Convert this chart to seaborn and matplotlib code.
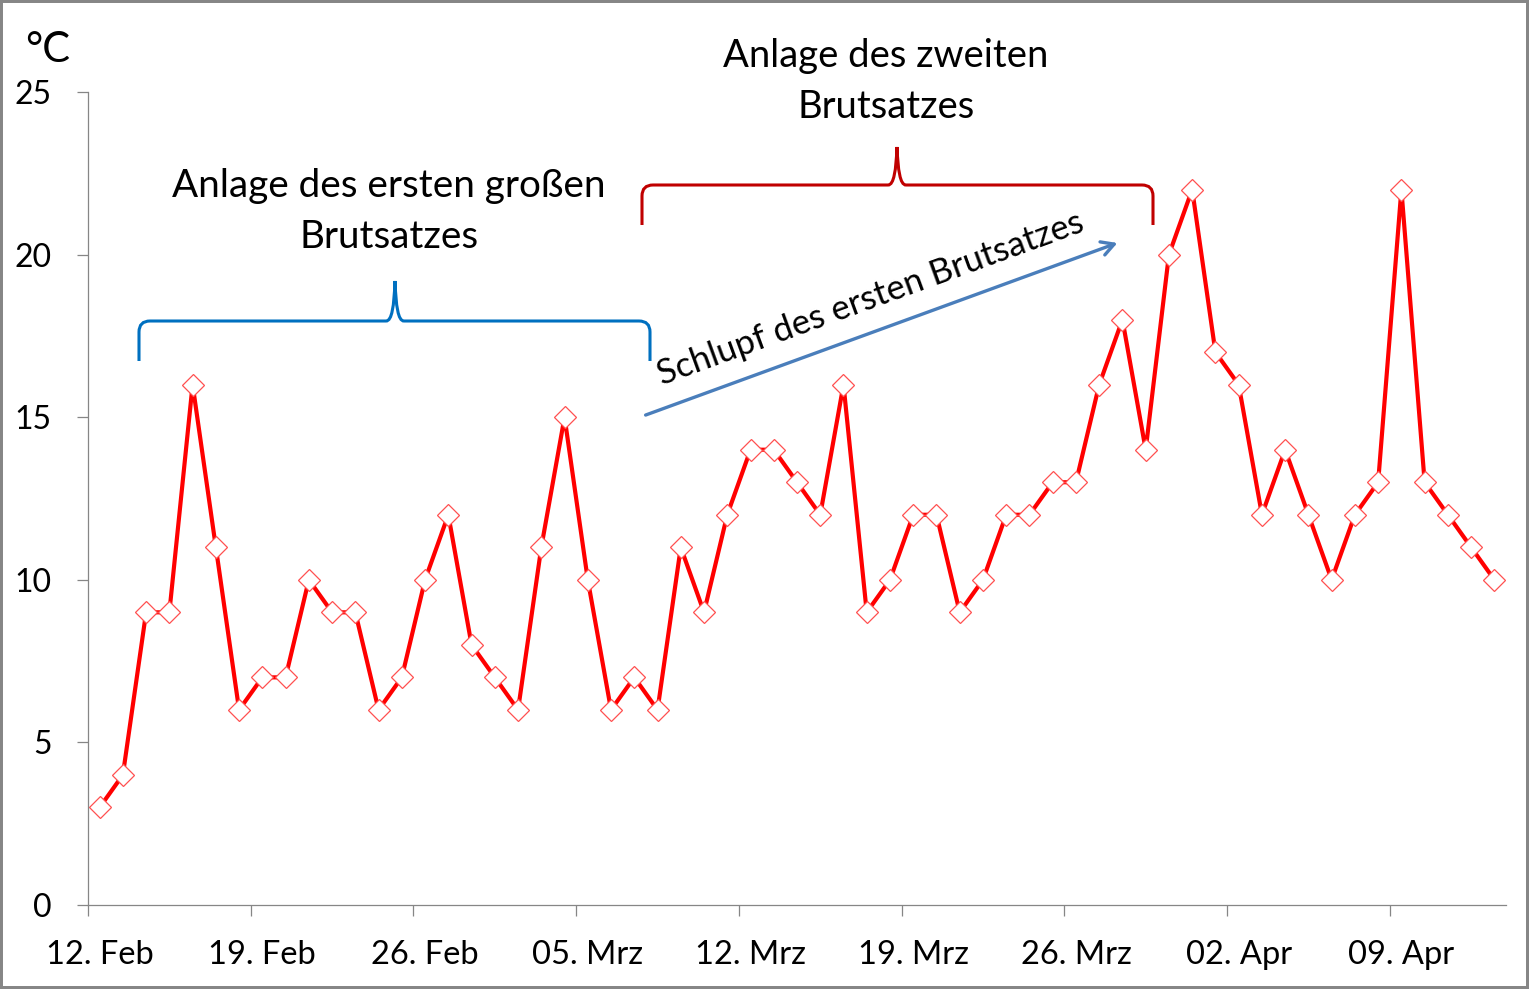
"""Tagestemperaturen Feb-Apr mit Brutsatz-Annotationen."""

import matplotlib.dates as mdates
import matplotlib.pyplot as plt
import numpy as np
import pandas as pd
import seaborn as sns
from matplotlib.patches import FancyArrowPatch, PathPatch, Rectangle
from matplotlib.path import Path

sns.set_style("white")
plt.rcParams["font.family"] = ["Lato", "DejaVu Sans"]
plt.rcParams["text.color"] = "black"
plt.rcParams["xtick.labelcolor"] = "black"
plt.rcParams["ytick.labelcolor"] = "black"

# --- data -------------------------------------------------------------
start_date = "2013-02-12"
temperatures = [
    3, 4, 9, 9, 16, 11, 6, 7, 7, 10, 9, 9, 6, 7, 10, 12, 8, 7, 6, 11,
    15, 10, 6, 7, 6, 11, 9, 12, 14, 14, 13, 12, 16, 9, 10, 12, 12, 9, 10, 12,
    12, 13, 13, 16, 18, 14, 20, 22, 17, 16, 12, 14, 12, 10, 12, 13, 22, 13, 12, 11,
    10,
]
tick_labels = [
    "12. Feb", "19. Feb", "26. Feb", "05. Mrz", "12. Mrz",
    "19. Mrz", "26. Mrz", "02. Apr", "09. Apr",
]
y_ticks = [0, 5, 10, 15, 20, 25]
label_first = ["Anlage des ersten großen", "Brutsatzes"]
label_second = ["Anlage des zweiten", "Brutsatzes"]
label_arrow = "Schlupf des ersten Brutsatzes"

days = pd.date_range(start_date, periods=len(temperatures), freq="D")
df = pd.DataFrame({"datum": days + pd.Timedelta(hours=12), "temp": temperatures})
tick_days = pd.date_range(start_date, periods=len(tick_labels), freq="7D")

W, H = 1529, 989
GRAY = "#868686"


def fxy(x, y):
    """Reference pixel position -> figure fraction."""
    return x / W, 1 - y / H


fig = plt.figure(figsize=(W / 100, H / 100), dpi=100)
ax = fig.add_axes([88 / W, 1 - 905 / H, (1506 - 88) / W, (905 - 92) / H])

sns.lineplot(
    data=df, x="datum", y="temp", ax=ax,
    color="#FF0000", linewidth=3.0,
    marker="D", markersize=11,
    markerfacecolor="white", markeredgecolor="#FF5050", markeredgewidth=0.9,
)

x0 = mdates.date2num(days[0])
ax.set_xlim(x0, x0 + len(temperatures))
ax.set_ylim(0, 25)
ax.set_xlabel("")
ax.set_ylabel("")

ax.set_xticks(mdates.date2num(tick_days))
ax.set_xticklabels([])
ax.set_xticks(mdates.date2num(tick_days) + 0.5, minor=True)
ax.set_xticklabels(tick_labels, minor=True)
ax.tick_params(axis="x", which="major", direction="out", length=8, width=0.9,
               color=GRAY, bottom=True)
ax.tick_params(axis="x", which="minor", length=0, pad=25, labelsize=23.5)
ax.set_yticks(y_ticks)
ax.tick_params(axis="y", direction="out", length=8, width=0.9, color=GRAY,
               left=True, pad=18, labelsize=23)

for side in ("top", "right"):
    ax.spines[side].set_visible(False)
for side in ("left", "bottom"):
    ax.spines[side].set_color(GRAY)
    ax.spines[side].set_linewidth(0.9)

fig.text(*fxy(25, 62), "°C", fontsize=30, ha="left", va="baseline")


def brace(x_left, x_right, x_tip, y_line, y_end, y_tip, color):
    r = 11
    verts = [
        fxy(x_left, y_end), fxy(x_left, y_line + r),
        fxy(x_left, y_line), fxy(x_left + r, y_line),
        fxy(x_tip - 9, y_line),
        fxy(x_tip - 3, y_line), fxy(x_tip - 1, y_line - 15), fxy(x_tip, y_tip),
        fxy(x_tip + 1, y_line - 15), fxy(x_tip + 3, y_line), fxy(x_tip + 9, y_line),
        fxy(x_right - r, y_line),
        fxy(x_right, y_line), fxy(x_right, y_line + r),
        fxy(x_right, y_end),
    ]
    codes = [
        Path.MOVETO, Path.LINETO,
        Path.CURVE3, Path.CURVE3,
        Path.LINETO,
        Path.CURVE4, Path.CURVE4, Path.CURVE4,
        Path.CURVE4, Path.CURVE4, Path.CURVE4,
        Path.LINETO,
        Path.CURVE3, Path.CURVE3,
        Path.LINETO,
    ]
    fig.add_artist(PathPatch(Path(verts, codes), transform=fig.transFigure,
                             facecolor="none", edgecolor=color, linewidth=2.2))


brace(139, 650, 395, 321, 361, 281, "#0070C0")
brace(642, 1153, 897, 185, 225, 147, "#C00000")

for text, y in zip(label_first, (197, 248)):
    fig.text(*fxy(389, y), text, fontsize=27.8, ha="center", va="baseline")
for text, y in zip(label_second, (67, 118)):
    fig.text(*fxy(886, y), text, fontsize=27.5, ha="center", va="baseline")

fig.add_artist(FancyArrowPatch(
    fxy(643, 416), fxy(1120, 242), transform=fig.transFigure,
    arrowstyle="->,head_length=9,head_width=5", color="#4A7EBB", linewidth=2.4,
    mutation_scale=1,
))
angle = np.degrees(np.arctan2(416 - 242, 1120 - 643))
fig.text(*fxy(871, 299), label_arrow, fontsize=25, rotation=angle,
         rotation_mode="anchor", ha="center", va="center")

fig.add_artist(Rectangle((0, 0), 1, 1, transform=fig.transFigure,
                         facecolor="none", edgecolor=GRAY, linewidth=4.3))

fig.savefig("out.png", dpi=100)
